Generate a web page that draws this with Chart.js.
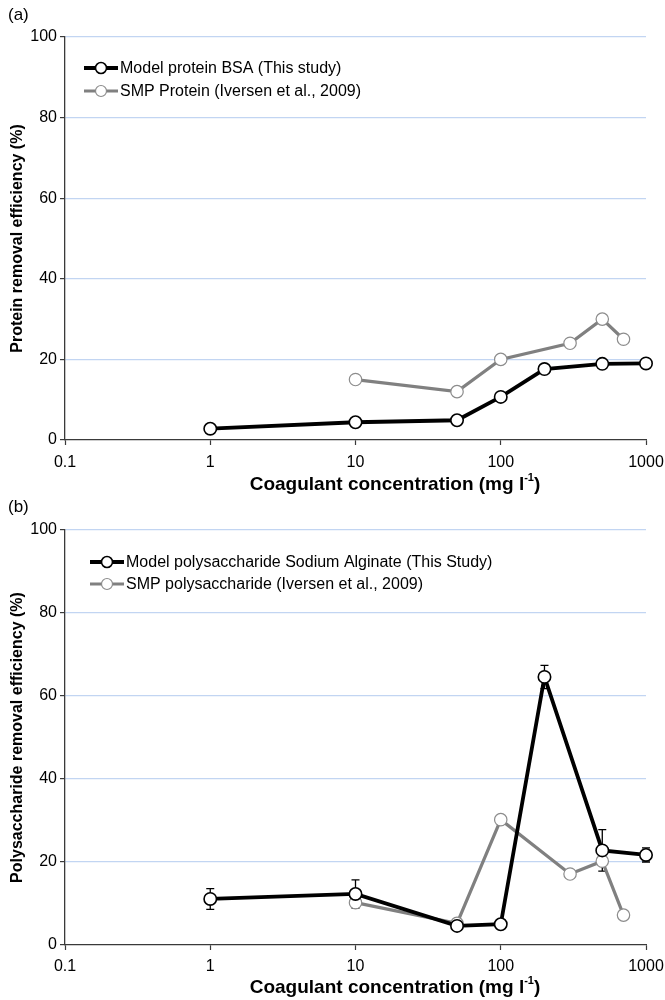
<!DOCTYPE html>
<html><head><meta charset="utf-8">
<script src="https://cdn.jsdelivr.net/npm/chart.js@4.4.1/dist/chart.umd.min.js"></script>
<style>
html,body{margin:0;padding:0;background:#fff;}
#wrap{position:relative;width:665px;height:1000px;overflow:hidden;}
.cv{position:absolute;left:0;width:665px;height:500px;}
.lab{position:absolute;left:8px;font:17px/18px "Liberation Sans",Arial,sans-serif;color:#000;}
</style></head><body>
<div id="wrap">
<div class="cv" style="top:0"><canvas id="ca" width="665" height="500"></canvas></div>
<div class="cv" style="top:500px"><canvas id="cb" width="665" height="500"></canvas></div>
<div class="lab" style="top:6px">(a)</div>
<div class="lab" style="top:498px">(b)</div>
</div>
<script>
// ---- data ----
const xTickValues = [0.1, 1, 10, 100, 1000];
const xTickLabels = ['0.1', '1', '10', '100', '1000'];
const yTickValues = [0, 20, 40, 60, 80, 100];

const bsaX = [1, 10, 50, 100, 200, 500, 1000];
const bsaY = [2.8, 4.4, 4.9, 10.7, 17.6, 18.9, 19.0];
const smpProtX = [10, 50, 100, 300, 500, 700];
const smpProtY = [15, 12, 20, 24, 30, 25];

const algX = [1, 10, 50, 100, 200, 500, 1000];
const algY = [11.1, 12.3, 4.6, 5.0, 64.6, 22.8, 21.7];
const algErr = [2.5, 3.4, 0, 0, 2.8, 5.0, 1.7];
const smpPolyX = [10, 50, 100, 300, 500, 700];
const smpPolyY = [10.2, 5.2, 30.2, 17.1, 20.2, 7.2];

const labelsA = ['Model protein BSA (This study)', 'SMP Protein (Iversen et al., 2009)'];
const labelsB = ['Model polysaccharide Sodium Alginate (This Study)', 'SMP polysaccharide (Iversen et al., 2009)'];
const yTitleA = 'Protein removal efficiency (%)';
const yTitleB = 'Polysaccharide removal efficiency (%)';
const xTitleMain = 'Coagulant concentration (mg l';
const xTitleSup = '-1';
const xTitleEnd = ')';

// ---- styling ----
const FAM = '"Liberation Sans", Arial, Helvetica, sans-serif';
Chart.defaults.font.family = FAM;
Chart.defaults.color = '#000';
const AXIS = '#3a3a3a';
const GRID = '#c2d5f2';

function pts(xs, ys) { return xs.map((x, i) => ({ x: x, y: ys[i] })); }

function blackSet(label, xs, ys, err) {
  return {
    label: label, data: pts(xs, ys), errorBars: err || null, clip: false,
    borderColor: '#000', borderWidth: 3.8, tension: 0,
    pointRadius: 6.2, pointHoverRadius: 6.2, pointBorderWidth: 1.6,
    pointBackgroundColor: '#fff', pointBorderColor: '#000'
  };
}
function greySet(label, xs, ys) {
  return {
    label: label, data: pts(xs, ys), clip: false,
    borderColor: '#808080', borderWidth: 3.2, tension: 0,
    pointRadius: 6.2, pointHoverRadius: 6.2, pointBorderWidth: 1.2,
    pointBackgroundColor: '#fff', pointBorderColor: '#8c8c8c'
  };
}

const errorBarPlugin = {
  id: 'errorBars',
  beforeDatasetsDraw(chart) {
    const ctx = chart.ctx, xs = chart.scales.x, ys = chart.scales.y;
    chart.data.datasets.forEach(ds => {
      if (!ds.errorBars) return;
      ctx.save();
      ctx.strokeStyle = '#000';
      ctx.lineWidth = 1.3;
      ds.data.forEach((p, i) => {
        const e = ds.errorBars[i];
        if (!e) return;
        const px = xs.getPixelForValue(p.x);
        const top = ys.getPixelForValue(p.y + e);
        const bot = ys.getPixelForValue(p.y - e);
        ctx.beginPath();
        ctx.moveTo(px, top); ctx.lineTo(px, bot);
        ctx.moveTo(px - 4, top); ctx.lineTo(px + 4, top);
        ctx.moveTo(px - 4, bot); ctx.lineTo(px + 4, bot);
        ctx.stroke();
      });
      ctx.restore();
    });
  }
};

const inlineLegendPlugin = {
  id: 'inlineLegend',
  afterDraw(chart, args, opts) {
    const ctx = chart.ctx;
    ctx.save();
    chart.data.datasets.forEach((ds, i) => {
      const y = opts.y + i * opts.dy;
      const x0 = opts.x, x1 = opts.x + opts.w, xc = (x0 + x1) / 2;
      ctx.strokeStyle = ds.borderColor;
      ctx.lineWidth = ds.borderWidth;
      ctx.beginPath(); ctx.moveTo(x0, y); ctx.lineTo(x1, y); ctx.stroke();
      ctx.beginPath(); ctx.arc(xc, y, 5.5, 0, Math.PI * 2);
      ctx.fillStyle = '#fff'; ctx.fill();
      ctx.lineWidth = ds.pointBorderWidth; ctx.strokeStyle = ds.pointBorderColor; ctx.stroke();
      ctx.fillStyle = '#000';
      ctx.font = '16px ' + FAM;
      ctx.textBaseline = 'middle';
      ctx.textAlign = 'left';
      ctx.fillText(ds.label, x1 + 2, y + 1);
    });
    ctx.restore();
  }
};

const xTitlePlugin = {
  id: 'xTitle',
  afterDraw(chart, args, opts) {
    const ctx = chart.ctx;
    ctx.save();
    const big = 'bold 19px ' + FAM, small = 'bold 11px ' + FAM;
    ctx.font = big; const w1 = ctx.measureText(xTitleMain).width; const w3 = ctx.measureText(xTitleEnd).width;
    ctx.font = small; const w2 = ctx.measureText(xTitleSup).width;
    let x = opts.cx - (w1 + w2 + w3) / 2;
    ctx.fillStyle = '#000'; ctx.textBaseline = 'middle'; ctx.textAlign = 'left';
    ctx.font = big; ctx.fillText(xTitleMain, x, opts.cy); x += w1;
    ctx.font = small; ctx.fillText(xTitleSup, x, opts.cy - 7); x += w2;
    ctx.font = big; ctx.fillText(xTitleEnd, x, opts.cy);
    ctx.restore();
  }
};

function makeChart(id, datasets, yTitle, padTop, xHeight, xPad, legendOpts, titleOpts) {
  return new Chart(document.getElementById(id), {
    type: 'line',
    data: { datasets: datasets },
    plugins: [errorBarPlugin, inlineLegendPlugin, xTitlePlugin],
    options: {
      responsive: false, animation: false, events: [],
      layout: { padding: { top: padTop, right: 19, left: 0, bottom: 0 } },
      plugins: {
        legend: { display: false }, tooltip: { enabled: false },
        inlineLegend: legendOpts, xTitle: titleOpts
      },
      scales: {
        x: {
          type: 'logarithmic', min: 0.1, max: 1000,
          afterBuildTicks: s => { s.ticks = xTickValues.map(v => ({ value: v, major: true })); },
          afterFit: s => { s.height = xHeight; s.paddingRight = 0; s.paddingLeft = 0; },
          ticks: { callback: (v, i) => xTickLabels[i], autoSkip: false, maxRotation: 0,
                   font: { size: 16 }, color: '#000', padding: xPad },
          grid: { drawOnChartArea: false, drawTicks: true, tickLength: 5, tickColor: AXIS, tickWidth: 1.2 },
          border: { color: AXIS, width: 1.3 }
        },
        y: {
          min: 0, max: 100,
          afterBuildTicks: s => { s.ticks = yTickValues.map(v => ({ value: v })); },
          afterFit: s => { s.width = 65; },
          ticks: { font: { size: 16 }, color: '#000', padding: 3 },
          grid: { color: c => (c.tick && c.tick.value === 0) ? 'rgba(0,0,0,0)' : GRID,
                  lineWidth: 1.2, drawTicks: true, tickLength: 5, tickColor: AXIS, tickWidth: 1.2 },
          border: { color: AXIS, width: 1.3 },
          title: { display: true, text: yTitle, font: { size: 16, weight: 'bold' }, color: '#000',
                   padding: { top: 8, bottom: 0 } }
        }
      }
    }
  });
}

makeChart('ca',
  [blackSet(labelsA[0], bsaX, bsaY), greySet(labelsA[1], smpProtX, smpProtY)],
  yTitleA, 37, 60, 8,
  { x: 84, y: 68, dy: 23, w: 34 },
  { cx: 395, cy: 485 });

makeChart('cb',
  [blackSet(labelsB[0], algX, algY, algErr), greySet(labelsB[1], smpPolyX, smpPolyY)],
  yTitleB, 30, 55, 7,
  { x: 90, y: 62, dy: 22, w: 34 },
  { cx: 395, cy: 488 });
</script>
</body></html>
